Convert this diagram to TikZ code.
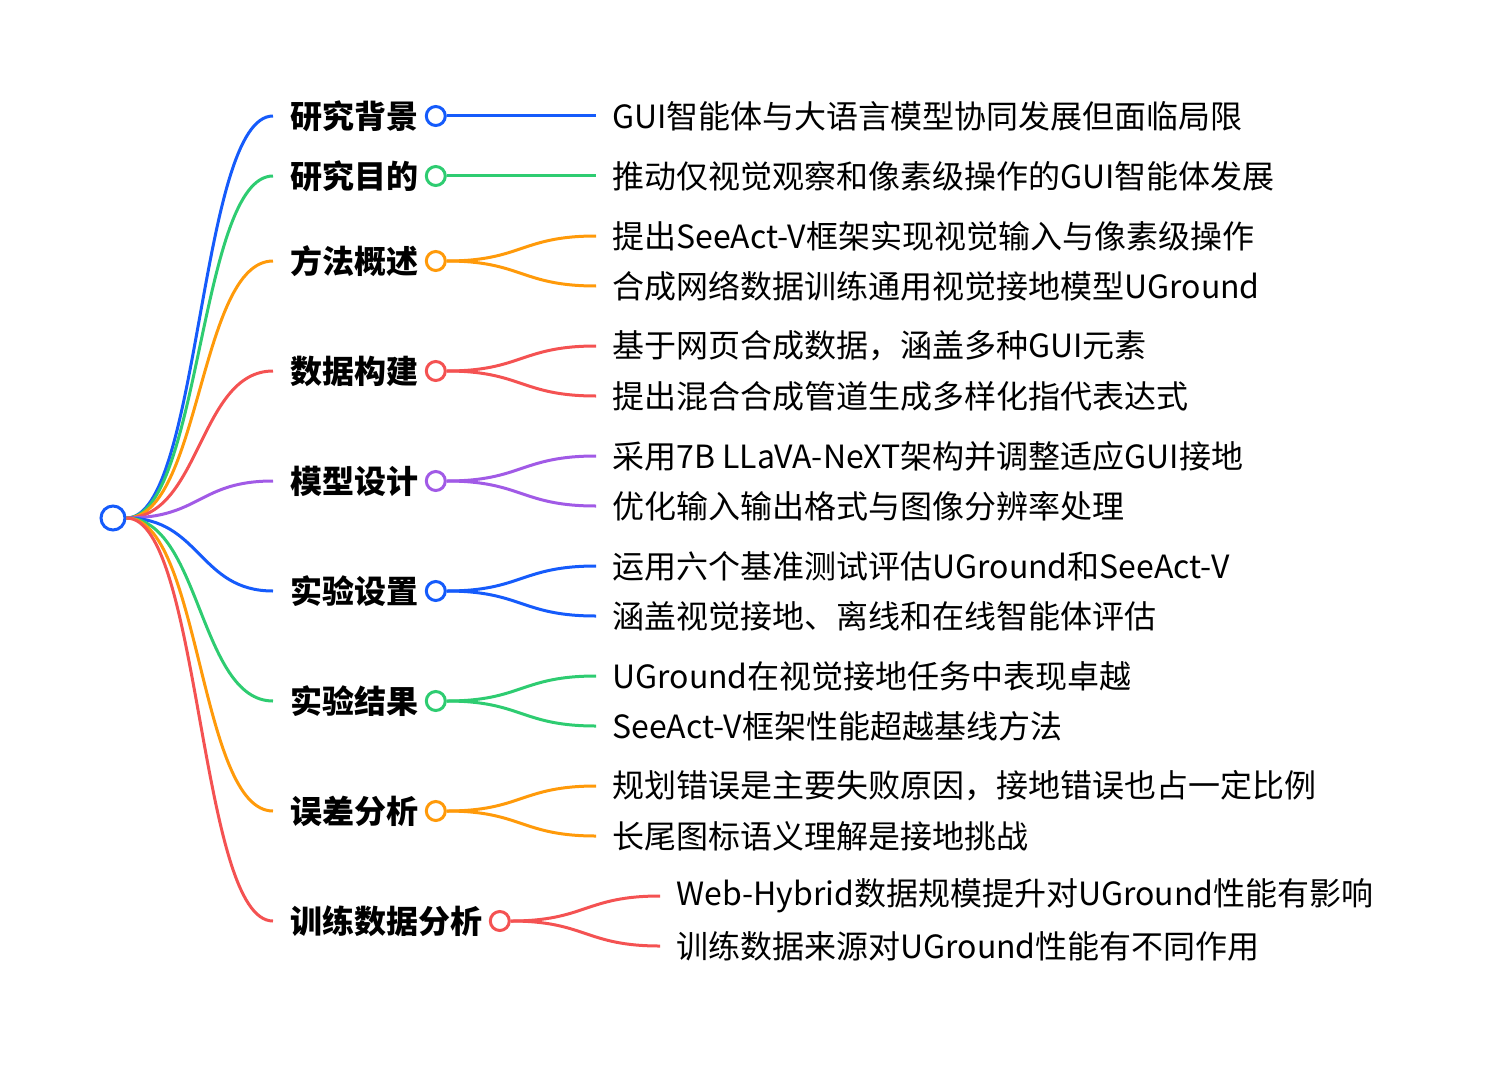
\documentclass[tikz,border=0pt]{standalone}
\usepackage{fontspec}
\setmainfont{Noto Sans CJK SC}
\usetikzlibrary{positioning}
\definecolor{mmblue}{HTML}{155BFB}
\definecolor{mmgreen}{HTML}{2ECC71}
\definecolor{mmorange}{HTML}{FF9A0A}
\definecolor{mmred}{HTML}{F45252}
\definecolor{mmpurple}{HTML}{A15AE6}

\begin{document}
\begin{tikzpicture}[
    x=0.5pt, y=-0.5pt,
    node distance=3pt,
    topic/.style={font=\fontsize{16}{19}\selectfont\bfseries, inner sep=0pt, anchor=west},
    leaf/.style={font=\fontsize{16}{19}\selectfont, inner sep=0pt, anchor=west},
    dot/.style={circle, draw=#1, fill=white, line width=1.5pt, inner sep=0pt, minimum size=9.5pt},
    link/.style={line width=1.5pt, color=#1},
  ]
  \useasboundingbox (0,0) rectangle (1486,1064);

  % === Root ===
  \node[circle, draw=mmblue, fill=white, line width=1.5pt, inner sep=0pt,
        minimum size=12pt] (root) at (113,518) {};

  % === Topics ===
  \node[topic] (b1) at (290,116) {研究背景};
  \node[dot=mmblue, right=of b1] (c1) {};
  \node[topic] (b2) at (290,176) {研究目的};
  \node[dot=mmgreen, right=of b2] (c2) {};
  \node[topic] (b3) at (290,261) {方法概述};
  \node[dot=mmorange, right=of b3] (c3) {};
  \node[topic] (b4) at (290,371) {数据构建};
  \node[dot=mmred, right=of b4] (c4) {};
  \node[topic] (b5) at (290,481) {模型设计};
  \node[dot=mmpurple, right=of b5] (c5) {};
  \node[topic] (b6) at (290,591) {实验设置};
  \node[dot=mmblue, right=of b6] (c6) {};
  \node[topic] (b7) at (290,701) {实验结果};
  \node[dot=mmgreen, right=of b7] (c7) {};
  \node[topic] (b8) at (290,811) {误差分析};
  \node[dot=mmorange, right=of b8] (c8) {};
  \node[topic] (b9) at (290,921) {训练数据分析};
  \node[dot=mmred, right=of b9] (c9) {};

  % === Leaves ===
  \node[leaf] (l1) at (612,116) {GUI智能体与大语言模型协同发展但面临局限};
  \node[leaf] (l2) at (612,176) {推动仅视觉观察和像素级操作的GUI智能体发展};
  \node[leaf] (l3a) at (612,236) {提出SeeAct-V框架实现视觉输入与像素级操作};
  \node[leaf] (l3b) at (612,286) {合成网络数据训练通用视觉接地模型UGround};
  \node[leaf] (l4a) at (612,346) {基于网页合成数据，涵盖多种GUI元素};
  \node[leaf] (l4b) at (612,396) {提出混合合成管道生成多样化指代表达式};
  \node[leaf] (l5a) at (612,456) {采用7B LLaVA-NeXT架构并调整适应GUI接地};
  \node[leaf] (l5b) at (612,506) {优化输入输出格式与图像分辨率处理};
  \node[leaf] (l6a) at (612,566) {运用六个基准测试评估UGround和SeeAct-V};
  \node[leaf] (l6b) at (612,616) {涵盖视觉接地、离线和在线智能体评估};
  \node[leaf] (l7a) at (612,676) {UGround在视觉接地任务中表现卓越};
  \node[leaf] (l7b) at (612,726) {SeeAct-V框架性能超越基线方法};
  \node[leaf] (l8a) at (612,786) {规划错误是主要失败原因，接地错误也占一定比例};
  \node[leaf] (l8b) at (612,836) {长尾图标语义理解是接地挑战};
  \node[leaf] (l9a) at (676,896) {Web-Hybrid数据规模提升对UGround性能有影响};
  \node[leaf] (l9b) at (676,946) {训练数据来源对UGround性能有不同作用};

  % === Root to topics ===
  \draw[link=mmblue] (root.east) .. controls +(74,0) and +(-74,0) .. ([xshift=-8.5pt]b1.west);
  \draw[link=mmgreen] (root.east) .. controls +(74,0) and +(-74,0) .. ([xshift=-8.5pt]b2.west);
  \draw[link=mmorange] (root.east) .. controls +(74,0) and +(-74,0) .. ([xshift=-8.5pt]b3.west);
  \draw[link=mmred] (root.east) .. controls +(74,0) and +(-74,0) .. ([xshift=-8.5pt]b4.west);
  \draw[link=mmpurple] (root.east) .. controls +(74,0) and +(-74,0) .. ([xshift=-8.5pt]b5.west);
  \draw[link=mmblue] (root.east) .. controls +(74,0) and +(-74,0) .. ([xshift=-8.5pt]b6.west);
  \draw[link=mmgreen] (root.east) .. controls +(74,0) and +(-74,0) .. ([xshift=-8.5pt]b7.west);
  \draw[link=mmorange] (root.east) .. controls +(74,0) and +(-74,0) .. ([xshift=-8.5pt]b8.west);
  \draw[link=mmred] (root.east) .. controls +(74,0) and +(-74,0) .. ([xshift=-8.5pt]b9.west);

  % === Topics to leaves ===
  \draw[link=mmblue] (c1.east) -- ([xshift=-8pt]l1.west);
  \draw[link=mmgreen] (c2.east) -- ([xshift=-8pt]l2.west);
  \draw[link=mmorange] (c3.east) .. controls +(75,0) and +(-75,0) .. ([xshift=-8pt]l3a.west);
  \draw[link=mmorange] (c3.east) .. controls +(75,0) and +(-75,0) .. ([xshift=-8pt]l3b.west);
  \draw[link=mmred] (c4.east) .. controls +(75,0) and +(-75,0) .. ([xshift=-8pt]l4a.west);
  \draw[link=mmred] (c4.east) .. controls +(75,0) and +(-75,0) .. ([xshift=-8pt]l4b.west);
  \draw[link=mmpurple] (c5.east) .. controls +(75,0) and +(-75,0) .. ([xshift=-8pt]l5a.west);
  \draw[link=mmpurple] (c5.east) .. controls +(75,0) and +(-75,0) .. ([xshift=-8pt]l5b.west);
  \draw[link=mmblue] (c6.east) .. controls +(75,0) and +(-75,0) .. ([xshift=-8pt]l6a.west);
  \draw[link=mmblue] (c6.east) .. controls +(75,0) and +(-75,0) .. ([xshift=-8pt]l6b.west);
  \draw[link=mmgreen] (c7.east) .. controls +(75,0) and +(-75,0) .. ([xshift=-8pt]l7a.west);
  \draw[link=mmgreen] (c7.east) .. controls +(75,0) and +(-75,0) .. ([xshift=-8pt]l7b.west);
  \draw[link=mmorange] (c8.east) .. controls +(75,0) and +(-75,0) .. ([xshift=-8pt]l8a.west);
  \draw[link=mmorange] (c8.east) .. controls +(75,0) and +(-75,0) .. ([xshift=-8pt]l8b.west);
  \draw[link=mmred] (c9.east) .. controls +(75,0) and +(-75,0) .. ([xshift=-8pt]l9a.west);
  \draw[link=mmred] (c9.east) .. controls +(75,0) and +(-75,0) .. ([xshift=-8pt]l9b.west);

\end{tikzpicture}
\end{document}
